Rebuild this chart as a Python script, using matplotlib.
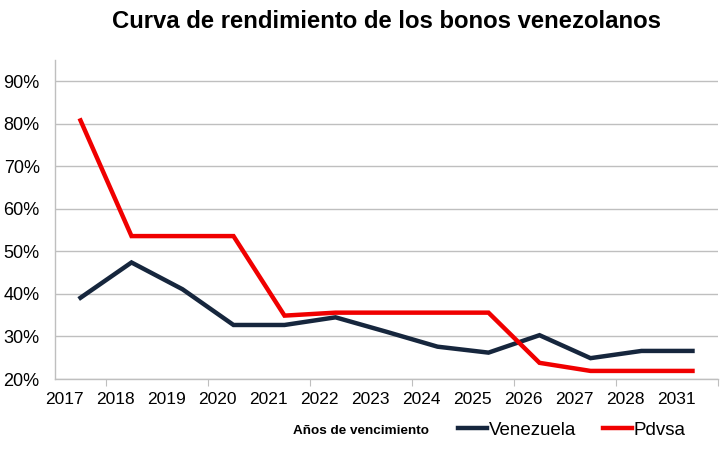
import matplotlib
matplotlib.use("Agg")
import matplotlib.pyplot as plt
from matplotlib.ticker import FixedLocator, FuncFormatter

years = ["2017", "2018", "2019", "2020", "2021", "2022", "2023",
         "2024", "2025", "2026", "2027", "2028", "2031"]
venezuela = [39.1, 47.4, 41.1, 32.7, 32.7, 34.5, 31.1, 27.6, 26.2, 30.3, 24.9, 26.6, 26.6]
pdvsa = [80.8, 53.6, 53.6, 53.6, 34.9, 35.6, 35.6, 35.6, 35.6, 23.8, 21.9, 21.9, 21.9]
yticks = [20, 30, 40, 50, 60, 70, 80, 90]

plt.rcParams['font.family'] = ['Liberation Sans', 'DejaVu Sans']

W, H = 722, 451
fig = plt.figure(figsize=(W / 100, H / 100), dpi=100)
ax = fig.add_axes([55 / W, 1 - 379 / H, (718 - 55) / W, (379 - 60) / H])

x = list(range(len(years)))
ax.plot(x, venezuela, color="#16263d", lw=3.2, solid_joinstyle="miter", label="Venezuela")
ax.plot(x, pdvsa, color="#f00000", lw=3.2, solid_joinstyle="miter", label="Pdvsa")

ax.set_xlim(-0.5, len(years) - 0.5)
ax.set_ylim(20, 95)

ax.yaxis.set_major_locator(FixedLocator(yticks))
ax.yaxis.set_major_formatter(FuncFormatter(lambda v, p: f"{int(v)}%"))
ax.grid(axis="y", color="#bfbfbf", lw=1.0)
ax.set_axisbelow(True)
ax.tick_params(axis="y", length=0, pad=11, labelsize=13, labelcolor="#000000")

# tick marks every two categories, labels shifted left of each category
ax.xaxis.set_major_locator(FixedLocator([0.5, 2.5, 4.5, 6.5, 8.5, 10.5, 12.5]))
ax.xaxis.set_major_formatter(FuncFormatter(lambda v, p: ""))
ax.tick_params(axis="x", which="major", length=5, color="#bfbfbf", direction="out")
ax.xaxis.set_minor_locator(FixedLocator([i - 0.32 for i in x]))
ax.set_xticklabels(years, minor=True)
ax.tick_params(axis="x", which="minor", length=0, pad=9, labelsize=12.5)

for s in ["top", "right"]:
    ax.spines[s].set_visible(False)
for s in ["left", "bottom"]:
    ax.spines[s].set_color("#bfbfbf")
    ax.spines[s].set_linewidth(1.0)

fig.text(386 / W, 1 - 21 / H, "Curva de rendimiento de los bonos venezolanos",
         ha="center", va="center", fontsize=17.2, fontweight="bold")

fig.text(293 / W, 1 - 431 / H, "Años de vencimiento", ha="left", va="center",
         fontsize=9.7, fontweight="bold")
leg = fig.legend(loc="center left", bbox_to_anchor=(458 / W, 1 - 430 / H), ncol=2,
                 frameon=False, handlelength=1.55, handletextpad=0.1,
                 columnspacing=1.4, fontsize=13.5, borderaxespad=0, borderpad=0)

fig.savefig("out.png", dpi=100)
